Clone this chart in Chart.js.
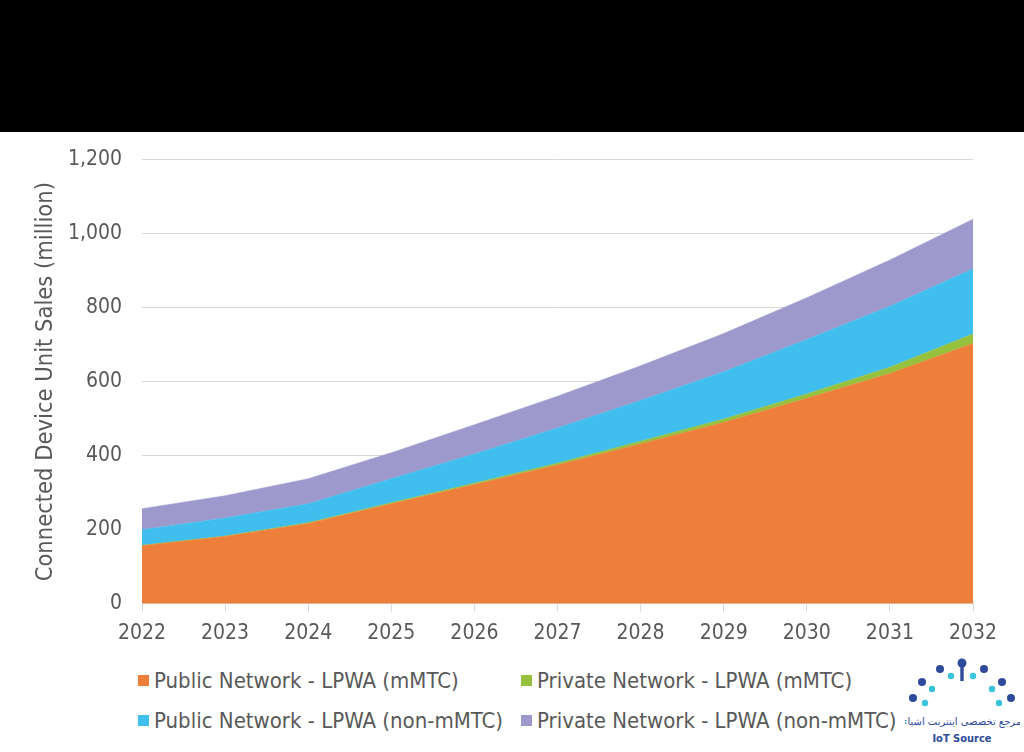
<!DOCTYPE html>
<html>
<head>
<meta charset="utf-8">
<script src="https://cdn.jsdelivr.net/npm/chart.js@4/dist/chart.umd.min.js"></script>
<style>
  body { margin: 0; width: 1024px; height: 752px; background: #fff; position: relative; overflow: hidden; font-family: "DejaVu Sans Condensed", "DejaVu Sans", sans-serif; }
  #band { position: absolute; left: 0; top: 0; width: 1024px; height: 132px; background: #000; }
  #wrap { position: absolute; left: 0; top: 127px; width: 1024px; height: 528px; }
  .leg { position: absolute; font-size: 22px; color: #595959; white-space: nowrap; line-height: 26px; }
  .leg span.sq { display: inline-block; width: 11px; height: 11px; margin-right: 5px; vertical-align: 2px; }
  #logo { position: absolute; left: 905px; top: 656px; width: 115px; height: 94px; }
</style>
</head>
<body>
<div id="band"></div>
<div id="wrap"><canvas id="chart-iot"></canvas></div>
<div id="legend"></div>
<svg id="logo" viewBox="0 0 115 94">
  <g fill="#2e4a9a">
    <circle cx="57" cy="7" r="4.5"/><rect x="55.3" y="9" width="3.4" height="16"/>
    <circle cx="35" cy="13" r="4"/><circle cx="79" cy="13" r="4"/>
    <circle cx="17" cy="26" r="4"/><circle cx="97" cy="26" r="4"/>
    <circle cx="8" cy="42" r="4"/><circle cx="106" cy="42" r="4"/>
  </g>
  <g fill="#3cc3dc">
    <circle cx="46" cy="20" r="3.2"/><circle cx="68" cy="20" r="3.2"/>
    <circle cx="27" cy="33" r="3.2"/><circle cx="87" cy="33" r="3.2"/>
    <circle cx="20" cy="47" r="3.2"/><circle cx="94" cy="47" r="3.2"/>
  </g>
  <text x="57" y="69" text-anchor="middle" font-size="10" fill="#2e4a9a" font-family="DejaVu Sans">مرجع تخصصی اینترنت اشیاء</text>
  <text x="57" y="86" text-anchor="middle" font-size="11" font-weight="bold" fill="#2e4a9a" font-family="DejaVu Sans Condensed, DejaVu Sans">IoT Source</text>
</svg>
<script>
// années
const years = ["2022", "2023", "2024", "2025", "2026", "2027", "2028", "2029", "2030", "2031", "2032"];

// valeurs (millions)
const public_mmtc = [157, 182, 217, 270, 322, 375, 432, 490, 555, 622, 703];
const private_mmtc = [1, 1, 2, 3, 4, 5, 7, 9, 12, 17, 26];
const public_non_mmtc = [42, 49, 51, 65, 79, 95, 110, 128, 147, 165, 176];
const private_non_mmtc = [57, 60, 68, 70, 79, 86, 94, 103, 113, 125, 134];

const series_names = [
    "Public Network - LPWA (mMTC)",
    "Private Network - LPWA (mMTC)",
    "Public Network - LPWA (non-mMTC)",
    "Private Network - LPWA (non-mMTC)",
];
const series_colors = ["#EE7F3B", "#95C13D", "#40BEEE", "#9D99CC"];
const series_data = [public_mmtc, private_mmtc, public_non_mmtc, private_non_mmtc];

const font_family = "'DejaVu Sans Condensed', 'DejaVu Sans', sans-serif";
const text_color = "#595959";

let ctx = document.getElementById("chart-iot");

const datasets = series_data.map((d, i) => ({
    label: series_names[i],
    data: d,
    fill: i === 0 ? "origin" : "-1",
    backgroundColor: series_colors[i],
    borderColor: series_colors[i],
    borderWidth: 0.5,
    pointRadius: 0,
    tension: 0,
}));

new Chart(ctx, {
    type: "line",
    data: { labels: years, datasets: datasets },
    options: {
        animation: false,
        responsive: true,
        maintainAspectRatio: false,
        layout: { padding: { top: 22, right: 51, left: 0, bottom: 0 } },
        plugins: { legend: { display: false }, tooltip: { enabled: false } },
        scales: {
            x: {
                offset: false,
                grid: { display: true, drawOnChartArea: false, drawTicks: true, tickLength: 8, color: "#d9d9d9" },
                border: { color: "#d9d9d9" },
                ticks: { color: text_color, font: { family: font_family, size: 21 }, padding: 9, maxRotation: 0 },
            },
            y: {
                stacked: true,
                min: 0,
                max: 1200,
                grid: { color: "#d9d9d9", drawTicks: false },
                border: { display: false },
                ticks: {
                    stepSize: 200,
                    color: text_color,
                    padding: 20,
                    font: { family: font_family, size: 21 },
                    callback: (v) => v.toLocaleString("en-US"),
                },
                title: {
                    display: true,
                    text: "Connected Device Unit Sales (million)",
                    color: text_color,
                    font: { family: font_family, size: 23.5 },
                    padding: { top: 32, bottom: 0 },
                },
                afterFit: (scale) => { scale.width = 142; },
            },
        },
    },
});

// légende en grille
const legend = document.getElementById("legend");
const pos = [[138, 668], [521, 668], [138, 708], [521, 708]];
series_names.forEach((name, i) => {
    const div = document.createElement("div");
    div.className = "leg";
    div.style.left = pos[i][0] + "px";
    div.style.top = pos[i][1] + "px";
    div.innerHTML = '<span class="sq" style="background:' + series_colors[i] + '"></span>' + name;
    legend.appendChild(div);
});
</script>
</body>
</html>
